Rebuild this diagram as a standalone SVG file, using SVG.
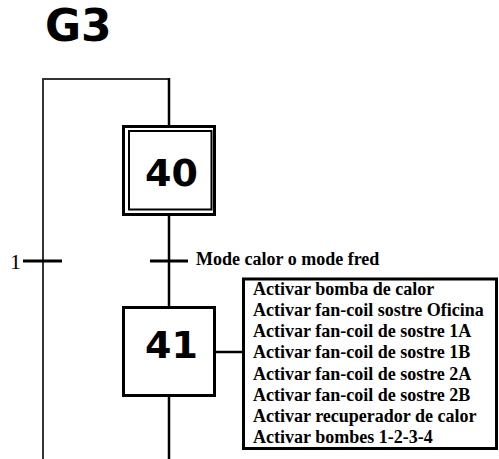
<svg xmlns="http://www.w3.org/2000/svg" width="499" height="459" viewBox="0 0 499 459">
<style>
.title{font-family:"DejaVu Sans",Verdana,sans-serif;font-weight:bold;fill:#000}
.num{font-family:"DejaVu Sans",Verdana,sans-serif;font-weight:bold;font-size:38px;fill:#000;text-anchor:middle}
.lbl{font-family:"Liberation Serif","Times New Roman",serif;font-weight:bold;font-size:18px;fill:#000}
.ln{fill:none;stroke:#000;stroke-width:2.5}
.loop{fill:none;stroke:#333;stroke-width:2}
.bar{stroke:#000;stroke-width:3}
</style>
<rect width="499" height="459" fill="#fff"/>
<text class="title" x="45" y="41" font-size="44">G3</text>
<g id="connectors">
<polyline class="loop" points="43,459 43,79 169,79"/>
<line class="ln" x1="169" y1="78" x2="169" y2="125"/>
<line class="ln" x1="169" y1="216" x2="169" y2="307"/>
<line class="ln" x1="169" y1="396" x2="169" y2="459"/>
<line class="ln" x1="215" y1="352" x2="243" y2="352" stroke-width="2"/>
</g>
<g id="t1">
<line class="bar" x1="23" y1="261" x2="62" y2="261"/>
<text x="10" y="269" font-family="Liberation Serif,'Times New Roman',serif" font-size="22" fill="#000">1</text>
</g>
<g id="t40-41">
<line class="bar" x1="150" y1="261" x2="188" y2="261"/>
<text class="lbl" x="196" y="265" font-size="17.5">Mode calor o mode fred</text>
</g>
<g id="step40">
<rect x="123.5" y="126.5" width="91" height="88" fill="#fff" stroke="#000" stroke-width="3"/>
<rect x="129" y="131" width="82.5" height="78.5" fill="none" stroke="#000" stroke-width="2"/>
<text class="num" x="171.5" y="186">40</text>
</g>
<g id="step41">
<rect x="123.5" y="307.5" width="91" height="88" fill="#fff" stroke="#000" stroke-width="3"/>
<text class="num" x="171.5" y="358">41</text>
</g>
<g id="actions41">
<rect x="243.5" y="279" width="253" height="169.5" fill="#fff" stroke="#000" stroke-width="3"/>
<text class="lbl" x="253">
<tspan x="253" y="295">Activar bomba de calor</tspan>
<tspan x="253" y="316">Activar fan-coil sostre Oficina</tspan>
<tspan x="253" y="337">Activar fan-coil de sostre 1A</tspan>
<tspan x="253" y="358">Activar fan-coil de sostre 1B</tspan>
<tspan x="253" y="380">Activar fan-coil de sostre 2A</tspan>
<tspan x="253" y="401">Activar fan-coil de sostre 2B</tspan>
<tspan x="253" y="422">Activar recuperador de calor</tspan>
<tspan x="253" y="443">Activar bombes 1-2-3-4</tspan>
</text>
</g>
</svg>
